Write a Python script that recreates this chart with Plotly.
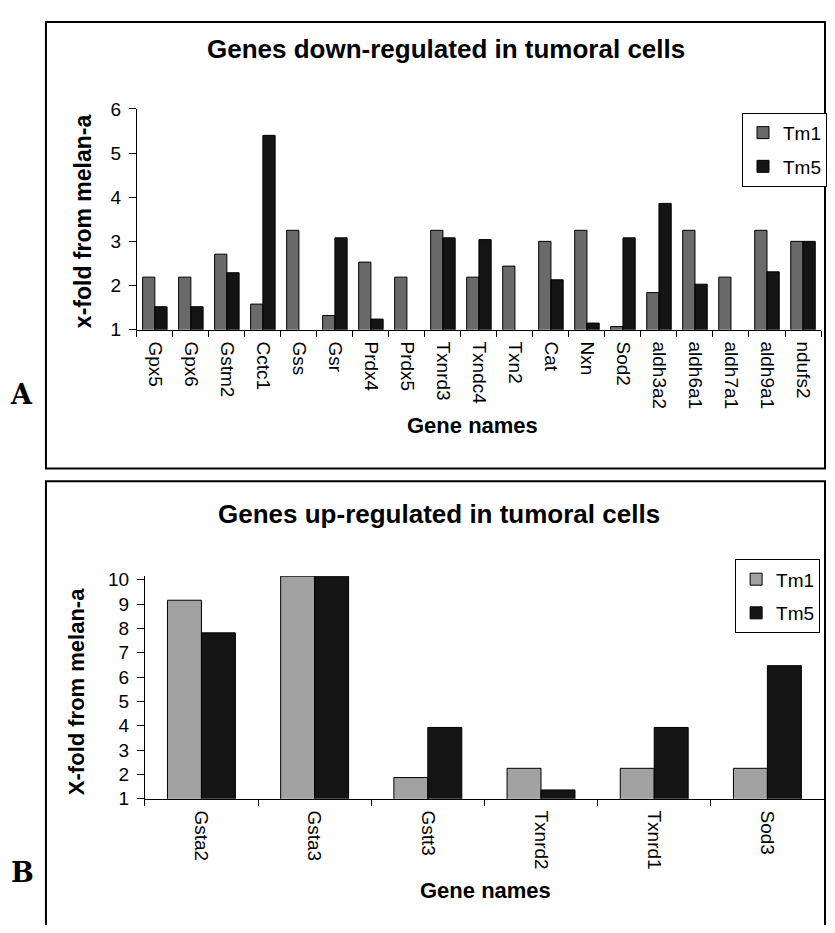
import plotly.graph_objects as go

# ---------------- data ----------------
genes_down = ["Gpx5", "Gpx6", "Gstm2", "Cctc1", "Gss", "Gsr", "Prdx4", "Prdx5", "Txnrd3",
              "Txndc4", "Txn2", "Cat", "Nxn", "Sod2", "aldh3a2", "aldh6a1", "aldh7a1",
              "aldh9a1", "ndufs2"]
down_tm1 = [2.19, 2.19, 2.71, 1.58, 3.25, 1.32, 2.53, 2.19, 3.25, 2.19, 2.44, 3.0, 3.25,
            1.07, 1.84, 3.25, 2.19, 3.25, 3.0]
down_tm5 = [1.52, 1.52, 2.29, 5.40, None, 3.08, 1.24, None, 3.08, 3.04, None, 2.13, 1.15,
            3.08, 3.86, 2.03, None, 2.31, 3.0]

genes_up = ["Gsta2", "Gsta3", "Gstt3", "Txnrd2", "Txnrd1", "Sod3"]
up_tm1 = [9.16, 10.15, 1.87, 2.25, 2.25, 2.25]
up_tm5 = [7.82, 10.15, 3.93, 1.36, 3.93, 6.47]

series_names = ["Tm1", "Tm5"]
y_ticks_down = [1, 2, 3, 4, 5, 6]
y_ticks_up = [1, 2, 3, 4, 5, 6, 7, 8, 9, 10]

# ---------------- helpers (page pixel -> paper coords; body has 8px margin) ----------------
PAGE_OFF = 8
W, H = 835 - 2 * PAGE_OFF, 933 - 2 * PAGE_OFF
def px(x):
    return (x - PAGE_OFF) / W
def py(y):
    return 1 - (y - PAGE_OFF) / H

FONT = "Arial, Liberation Sans, sans-serif"
C_TOP_TM1 = "#6a6a6a"
C_TM5 = "#141414"
C_BOT_TM1 = "#a2a2a2"

fig = go.Figure()

# top chart
fig.add_trace(go.Bar(x=genes_down, y=down_tm1, name=series_names[0], xaxis="x", yaxis="y",
                     marker=dict(color=C_TOP_TM1, line=dict(color="black", width=1)),
                     width=0.34, offset=-0.34, legend="legend", legendgroup="a1"))
fig.add_trace(go.Bar(x=genes_down, y=down_tm5, name=series_names[1], xaxis="x", yaxis="y",
                     marker=dict(color=C_TM5, line=dict(color="black", width=1)),
                     width=0.34, offset=0.0, legend="legend", legendgroup="a2"))
# bottom chart
fig.add_trace(go.Bar(x=genes_up, y=up_tm1, name=series_names[0], xaxis="x2", yaxis="y2",
                     marker=dict(color=C_BOT_TM1, line=dict(color="black", width=1)),
                     width=0.30, offset=-0.30, legend="legend2", legendgroup="b1"))
fig.add_trace(go.Bar(x=genes_up, y=up_tm5, name=series_names[1], xaxis="x2", yaxis="y2",
                     marker=dict(color=C_TM5, line=dict(color="black", width=1)),
                     width=0.30, offset=0.0, legend="legend2", legendgroup="b2"))

xcommon = dict(type="category", showline=True, linecolor="black", linewidth=1,
               ticks="outside", tickson="boundaries", ticklen=6, tickcolor="black",
               tickangle=90, showgrid=False, zeroline=False, ticklabelstandoff=7,
               tickfont=dict(family=FONT, size=19, color="black"), fixedrange=True)
ycommon = dict(showline=True, linecolor="black", linewidth=1, ticks="outside",
               ticklen=7, tickcolor="black", showgrid=False, zeroline=False,
               ticklabelstandoff=4,
               tickfont=dict(family=FONT, size=19, color="black"), fixedrange=True)

fig.update_layout(
    width=W, height=H, autosize=False,
    margin=dict(l=0, r=0, t=0, b=0),
    paper_bgcolor="white", plot_bgcolor="white",
    showlegend=True,
    xaxis=dict(xcommon, domain=[px(137), px(822)], anchor="y"),
    yaxis=dict(ycommon, domain=[py(327), py(101)], anchor="x", range=[1, 6],
               tickvals=y_ticks_down),
    xaxis2=dict(xcommon, domain=[px(145), px(825)], anchor="y2"),
    yaxis2=dict(ycommon, domain=[py(807), py(579)], anchor="x2", range=[1, 10.16],
                tickvals=y_ticks_up),
    legend=dict(x=px(743), y=py(105), xanchor="left", yanchor="top",
                bordercolor="black", borderwidth=1, bgcolor="white",
                font=dict(family=FONT, size=19, color="black"),
                traceorder="grouped", tracegroupgap=6, itemwidth=30),
    legend2=dict(x=px(736), y=py(562), xanchor="left", yanchor="top",
                 bordercolor="black", borderwidth=1, bgcolor="white",
                 font=dict(family=FONT, size=19, color="black"),
                 traceorder="grouped", tracegroupgap=6, itemwidth=30),
    font=dict(family=FONT, color="black"),
)

def ann(text, x, y, size, bold=True, angle=0, family=FONT):
    fig.add_annotation(text=text, x=px(x), y=py(y), xref="paper", yref="paper",
                       showarrow=False, textangle=angle, xanchor="center", yanchor="middle",
                       font=dict(family=family, size=size, color="black",
                                 weight="bold" if bold else "normal"))

ann("Genes down-regulated in tumoral cells", 447, 40, 26)
ann("Genes up-regulated in tumoral cells", 440, 516, 26)
ann("x-fold from melan-a", 83, 216, 23, angle=-90)
ann("X-fold from melan-a", 76, 697, 22, angle=-90)
ann("Gene names", 473, 425, 22)
ann("Gene names", 486, 901, 22)
ann("A", 22, 393, 27, family="DejaVu Serif, serif")
ann("B", 23, 883, 27, family="DejaVu Serif, serif")

# panel frames
fig.add_shape(type="rect", xref="paper", yref="paper",
              x0=px(46), x1=px(826), y0=py(469), y1=py(12),
              line=dict(color="black", width=2))
fig.add_shape(type="rect", xref="paper", yref="paper",
              x0=px(46), x1=px(826), y0=py(960), y1=py(482),
              line=dict(color="black", width=2))

fig.write_html("out.html", config={"displayModeBar": False})
